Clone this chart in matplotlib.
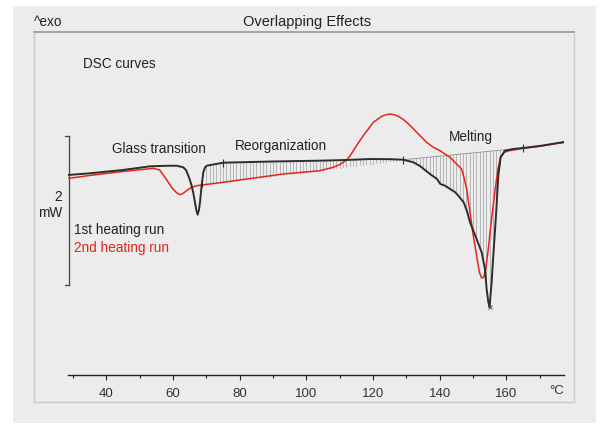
import numpy as np
import matplotlib.pyplot as plt
from matplotlib.patches import Rectangle
from matplotlib.lines import Line2D

plt.rcParams['font.family'] = ['Liberation Sans', 'DejaVu Sans']

# 1st heating run (black): temperature in °C, heat flow in mW (relative)
temp_1st = [28.6, 35, 45, 53.1, 58, 61.1, 63.1, 64, 64.6, 65.1, 65.6, 66.1, 66.6, 67.0, 67.4,
            67.8, 68.1, 68.6, 69.1, 69.6, 70.1, 75.1, 90, 104.1, 112, 119.1, 125, 129.1, 132.1,
            134.1, 137.1, 139.2, 140.2, 141.6, 143.1, 144.6, 145.6, 147.2, 148.2, 149.1, 151.1,
            152.6, 153.6, 154.1, 154.6, 154.97, 155.6, 156.1, 156.9, 157.6, 158.3, 159.6, 162.1,
            165, 170, 177.4]
hf_1st = [2.685, 2.707, 2.752, 2.801, 2.808, 2.809, 2.788, 2.745, 2.675, 2.617, 2.541, 2.443,
          2.318, 2.215, 2.152, 2.215, 2.318, 2.541, 2.721, 2.785, 2.809, 2.850, 2.866, 2.877,
          2.886, 2.899, 2.897, 2.890, 2.855, 2.805, 2.698, 2.631, 2.564, 2.541, 2.497, 2.456,
          2.407, 2.318, 2.201, 2.050, 1.826, 1.647, 1.423, 1.154, 0.980, 0.909, 1.248, 1.601,
          2.138, 2.675, 2.922, 3.011, 3.034, 3.047, 3.074, 3.128]

# 2nd heating run (red)
temp_2nd = [28.8, 35, 45, 54.1, 56, 57.6, 59.6, 61, 62.1, 63, 64.1, 65.5, 67.1, 75.1, 93.1,
            104.1, 108.1, 110.1, 112.1, 113.1, 114.1, 115.6, 117.1, 118.6, 120.1, 122.6, 123.9,
            125.1, 126.4, 127.6, 128.9, 130.1, 131.6, 133.1, 134.6, 136.1, 138, 140.1, 143.1,
            145.1, 146.6, 147.3, 148.1, 149.1, 150.1, 151.1, 151.9, 152.6, 153.3, 153.9, 154.6,
            155.3, 156.6, 157.5, 158.3, 159.3, 160.5, 165, 170, 177.4]
hf_2nd = [2.640, 2.678, 2.732, 2.774, 2.752, 2.654, 2.519, 2.450, 2.420, 2.436, 2.474, 2.517,
          2.541, 2.587, 2.698, 2.742, 2.788, 2.826, 2.886, 2.940, 3.011, 3.114, 3.212, 3.302,
          3.392, 3.472, 3.493, 3.503, 3.493, 3.472, 3.436, 3.392, 3.329, 3.258, 3.191, 3.123,
          3.060, 3.011, 2.922, 2.832, 2.765, 2.654, 2.497, 2.188, 1.870, 1.601, 1.383, 1.302,
          1.315, 1.450, 1.691, 1.987, 2.470, 2.765, 2.926, 2.987, 3.007, 3.043, 3.070, 3.123]

# integration baselines (start/end temperature and heat flow)
reorg_base_t = [69.5, 129.1]
reorg_base_hf = [2.554, 2.890]
melt_base_t = [129.1, 165]
melt_base_hf = [2.890, 3.047]

# evaluation limit marks on the 1st run
mark_t = [68.7, 75.1, 129.1, 165]
peak_t = 154.97

fig = plt.figure(figsize=(6.03, 4.27), dpi=100)
fig.patch.set_facecolor('white')

W, H = 603, 427
def fx(px):
    return px / W
def fy(py):
    return 1 - py / H

# grey panel and frame
fig.patches.append(Rectangle((fx(13), fy(424)), fx(596) - fx(13), fy(7) - fy(424),
                             transform=fig.transFigure, facecolor='#ececec', edgecolor='none', zorder=-10))
for (x0, y0, x1, y1, c) in [(34, 403, 574, 403, '#c8c8c8'), (34, 33, 34, 403, '#c8c8c8'),
                            (574, 33, 574, 403, '#d0d0d0'), (34, 33, 574, 33, '#999999')]:
    fig.lines.append(Line2D([fx(x0), fx(x1)], [fy(y0), fy(y1)], transform=fig.transFigure,
                            color=c, lw=1.2 if c == '#999999' else 1.0, zorder=-5))

ax = fig.add_axes([fx(68.3), fy(376), fx(564.3) - fx(68.3), fy(33) - fy(376)])
ax.set_facecolor('none')
ax.set_xlim(28.6, 177.4)
ax.set_ylim(0, 4.604)

# hatching between curve and baselines
black_col = '#2d2d2d'
red_col = '#e3261b'
for t in np.arange(70, 129, 1.0):
    b = np.interp(t, reorg_base_t, reorg_base_hf)
    c = np.interp(t, temp_1st, hf_1st)
    ax.plot([t, t], [b, c], color='#a0a0a0', lw=0.5, zorder=1)
for t in np.arange(130, 160, 1.0):
    b = np.interp(t, melt_base_t, melt_base_hf)
    c = np.interp(t, temp_1st, hf_1st)
    ax.plot([t, t], [b, c], color='#a0a0a0', lw=0.5, zorder=1)
ax.plot(melt_base_t, melt_base_hf, color='#909090', lw=0.6, zorder=1)

ax.plot(temp_2nd, hf_2nd, color=red_col, lw=1.1, zorder=3)
ax.plot(temp_1st, hf_1st, color=black_col, lw=1.4, zorder=4)

mark_hf = np.interp(mark_t, temp_1st, hf_1st)
ax.plot(mark_t, mark_hf, ls='none', marker='|', ms=6, mew=0.8, color=black_col, zorder=5)
ax.plot([peak_t], [np.interp(peak_t, temp_1st, hf_1st)], ls='none', marker='x', ms=3.5,
        mew=0.7, color='#555555', zorder=5)

# axes styling
for s in ['left', 'right', 'top']:
    ax.spines[s].set_visible(False)
ax.spines['bottom'].set_color('#222222')
ax.spines['bottom'].set_linewidth(1.0)
ax.set_yticks([])
ax.set_xticks(np.arange(40, 161, 20))
ax.set_xticks(np.arange(30, 171, 20), minor=True)
ax.tick_params(axis='x', which='major', length=3.5, width=0.8, color='#222222',
               labelsize=9.5, labelcolor='#333333', pad=5)
ax.tick_params(axis='x', which='minor', length=2.5, width=0.8, color='#222222')

# scale bar 2 mW
ax.plot([28.8, 28.8], [1.208, 3.208], color='#444444', lw=0.9, clip_on=False)
ax.plot([27.6, 28.8], [3.208, 3.208], color='#444444', lw=0.9, clip_on=False)
ax.plot([27.6, 28.8], [1.208, 1.208], color='#444444', lw=0.9, clip_on=False)

txt = '#222222'
fs = 9.8
fig.text(fx(62), fy(197), '2', ha='right', va='center', fontsize=fs, color=txt)
fig.text(fx(62), fy(213), 'mW', ha='right', va='center', fontsize=fs, color=txt)
fig.text(fx(34), fy(22), '^exo', ha='left', va='center', fontsize=fs, color=txt)
fig.text(fx(307), fy(22), 'Overlapping Effects', ha='center', va='center', fontsize=10.5, color=txt)
fig.text(fx(83), fy(64), 'DSC curves', ha='left', va='center', fontsize=fs, color=txt)
fig.text(fx(112), fy(149), 'Glass transition', ha='left', va='center', fontsize=fs, color=txt)
fig.text(fx(235), fy(146), 'Reorganization', ha='left', va='center', fontsize=fs, color=txt)
fig.text(fx(449), fy(137), 'Melting', ha='left', va='center', fontsize=fs, color=txt)
fig.text(fx(74), fy(230), '1st heating run', ha='left', va='center', fontsize=fs, color=txt)
fig.text(fx(74), fy(248), '2nd heating run', ha='left', va='center', fontsize=fs, color=red_col)
fig.text(fx(557), fy(391), '°C', ha='center', va='center', fontsize=9.5, color='#333333')

fig.savefig('out.png', dpi=100)
